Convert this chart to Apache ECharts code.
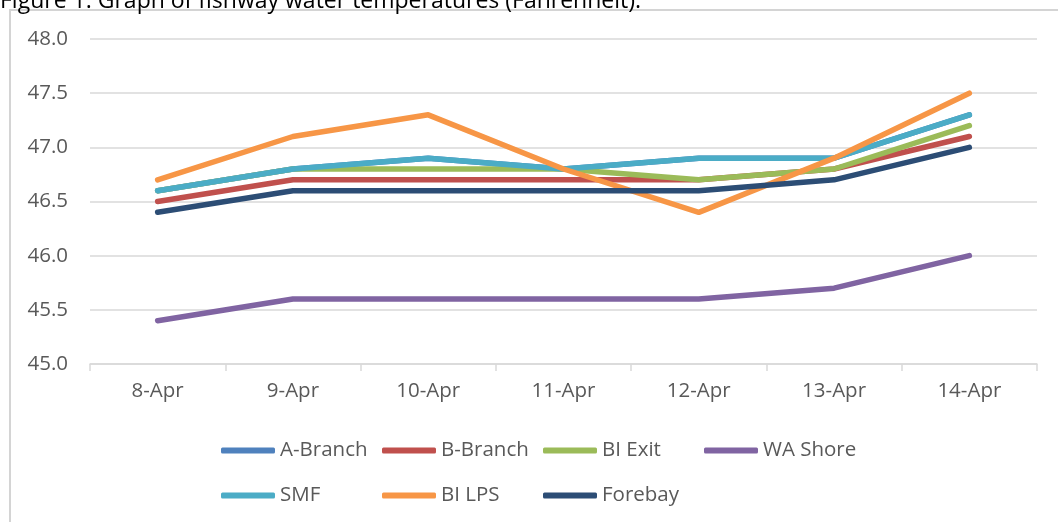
<!DOCTYPE html>
<html>
<head>
<meta charset="utf-8">
<script src="https://cdn.jsdelivr.net/npm/echarts@6/dist/echarts.min.js"></script>
<style>
  html, body { margin: 0; padding: 0; background: #fff; }
  #chart { width: 1058px; height: 522px; }
</style>
</head>
<body>
<div id="chart"></div>
<script>
var days = ['8-Apr', '9-Apr', '10-Apr', '11-Apr', '12-Apr', '13-Apr', '14-Apr']
var yTicks = [45.0, 45.5, 46.0, 46.5, 47.0, 47.5, 48.0]

// A-Branch sits under the other lines in the picture
var aBranch = [46.6, 46.8, 46.9, 46.8, 46.9, 46.9, 47.3]
var bBranch = [46.5, 46.7, 46.7, 46.7, 46.7, 46.8, 47.1]
var biExit = [46.6, 46.8, 46.8, 46.8, 46.7, 46.8, 47.2]
var waShore = [45.4, 45.6, 45.6, 45.6, 45.6, 45.7, 46.0]
var smf = [46.6, 46.8, 46.9, 46.8, 46.9, 46.9, 47.3]
var biLps = [46.7, 47.1, 47.3, 46.8, 46.4, 46.9, 47.5]
var forebay = [46.4, 46.6, 46.6, 46.6, 46.6, 46.7, 47.0]

var names = ['A-Branch', 'B-Branch', 'BI Exit', 'WA Shore', 'SMF', 'BI LPS', 'Forebay']
var colors = ['#4F81BD', '#C0504D', '#9BBB59', '#8064A2', '#4BACC6', '#F79646', '#2C4D75']
var values = [aBranch, bBranch, biExit, waShore, smf, biLps, forebay]

var font = '"Open Sans", "Noto Sans", sans-serif'
var chart = echarts.init(document.getElementById('chart'))

// one legend per entry so the entries sit in fixed columns like excel does
var legends = names.map(function(n, i) {
  return {
    data: [n],
    left: 221 + (i % 4) * 161,
    top: i < 4 ? 440 : 485,
    padding: 0,
    itemWidth: 54,
    itemHeight: 6,
    icon: 'roundRect',
    textStyle: { color: '#595959', fontSize: 20.5, fontFamily: font }
  }
})

chart.setOption({
  animation: false,
  color: colors,
  graphic: {
    elements: [
      {
        type: 'rect',
        left: 9,
        top: 9,
        shape: { x: 0, y: 0, width: 1100, height: 560 },
        style: { fill: 'transparent', stroke: '#d4d4d4', lineWidth: 2 },
        silent: true
      },
      {
        type: 'text',
        left: 0,
        top: -10,
        style: {
          text: 'Figure 1. Graph of fishway water temperatures (Fahrenheit).',
          font: '23px ' + font,
          fill: '#000'
        }
      }
    ]
  },
  grid: {
    left: 90,
    right: 21,
    top: 39,
    bottom: 158
  },
  legend: legends,
  xAxis: {
    type: 'category',
    data: days,
    boundaryGap: true,
    axisLine: { lineStyle: { color: '#d9d9d9', width: 1.5 } },
    axisTick: { show: true, length: 7, lineStyle: { color: '#d9d9d9', width: 1.5 } },
    axisLabel: { color: '#595959', fontSize: 20.5, fontFamily: font, margin: 17 }
  },
  yAxis: {
    type: 'value',
    min: yTicks[0],
    max: yTicks[yTicks.length - 1],
    interval: 0.5,
    axisLine: { show: false },
    axisTick: { show: false },
    axisLabel: {
      color: '#595959',
      fontSize: 20.5,
      fontFamily: font,
      margin: 22,
      formatter: function(v) { return v.toFixed(1) }
    },
    splitLine: { lineStyle: { color: '#d9d9d9', width: 1.5 } }
  },
  series: names.map(function(n, i) {
    return {
      name: n,
      type: 'line',
      data: values[i],
      showSymbol: false,
      symbol: 'none',
      lineStyle: { width: 5.5, cap: 'round', join: 'round', color: colors[i] }
    }
  })
})
</script>
</body>
</html>
